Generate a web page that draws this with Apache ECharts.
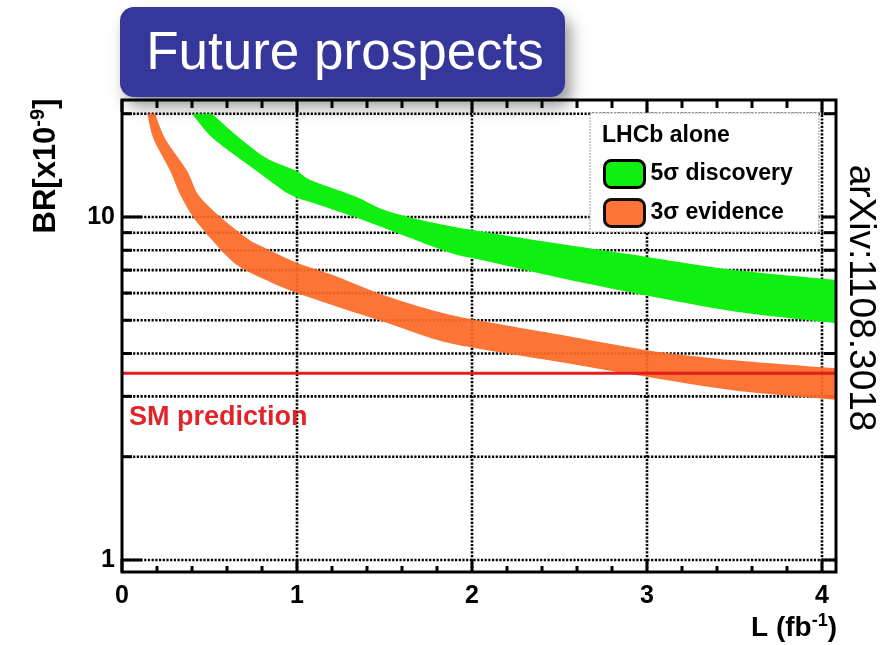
<!DOCTYPE html>
<html>
<head>
<meta charset="utf-8">
<script src="https://cdn.jsdelivr.net/npm/echarts@6/dist/echarts.min.js"></script>
<style>
html, body { margin: 0; padding: 0; background: #fff; }
#main { width: 881px; height: 645px; }
</style>
</head>
<body>
<div id="main"></div>
<script>
// axis ranges (log y)
var xMin = 0, xMax = 4.08;
var yMin = 0.9226, yMax = 21.93;

// ticks and labels
var xTicks = [0, 0.2, 0.4, 0.6, 0.8, 1, 1.2, 1.4, 1.6, 1.8, 2, 2.2, 2.4, 2.6, 2.8, 3, 3.2, 3.4, 3.6, 3.8, 4];
var xMajor = [0, 1, 2, 3, 4];
var xGrid = [1, 2, 3, 4];
var yTicks = [1, 2, 3, 4, 5, 6, 7, 8, 9, 10, 20];
var yMajor = [1, 10];
var xLabels = [0, 1, 2, 3, 4];
var yLabels = [1, 10];

// 5 sigma discovery band
var greenUpX = [0.514, 0.677, 0.829, 1.0, 1.08, 1.33, 1.52, 1.88, 2.5, 3.0, 3.5, 4.08];
var greenUpY = [20, 16.9, 14.8, 13.6, 12.8, 11.5, 10.4, 9.4, 8.35, 7.65, 7.0, 6.55];
var greenLoX = [0.40, 0.523, 0.771, 0.962, 1.114, 1.33, 1.52, 1.88, 2.05, 2.5, 3.0, 3.5, 4.08];
var greenLoY = [20, 16.9, 13.6, 11.6, 10.9, 10.0, 9.2, 7.85, 7.5, 6.65, 5.9, 5.3, 4.9];

// 3 sigma evidence band
var orangeUpX = [0.19, 0.247, 0.373, 0.436, 0.552, 0.714, 0.80, 1.0, 1.23, 1.52, 1.88, 2.5, 3.0, 3.5, 4.08];
var orangeUpY = [20, 16.9, 13.6, 11.6, 10.1, 8.67, 8.2, 7.35, 6.7, 5.86, 5.18, 4.54, 4.09, 3.82, 3.62];
var orangeLoX = [0.145, 0.18, 0.276, 0.333, 0.40, 0.505, 0.657, 0.85, 1.0, 1.23, 1.52, 1.88, 2.5, 3.0, 3.5, 4.08];
var orangeLoY = [20, 16.9, 13.6, 11.6, 10.1, 8.67, 7.24, 6.45, 6.0, 5.47, 4.9, 4.28, 3.78, 3.42, 3.12, 2.93];

// SM prediction
var smValue = 3.5;

var FONT = 'Liberation Sans, Arial, Helvetica, sans-serif';
var dotted = { stroke: '#000', lineWidth: 2.6, lineDash: [2.2, 1.5] };
var tickStyle = { stroke: '#000', lineWidth: 3 };

var myChart = echarts.init(document.getElementById('main'));

function renderXTick(params, api) {
    var v = api.value(0);
    var bot = api.coord([v, yMin]);
    var top = api.coord([v, yMax]);
    var major = xMajor.indexOf(v) >= 0;
    var kids = [];
    if (xGrid.indexOf(v) >= 0) {
        kids.push({ type: 'line', shape: { x1: bot[0], y1: bot[1], x2: top[0], y2: top[1] }, style: dotted });
    }
    kids.push({ type: 'line', shape: { x1: bot[0], y1: bot[1], x2: bot[0], y2: bot[1] - (major ? 13 : 6) }, style: tickStyle });
    kids.push({ type: 'line', shape: { x1: top[0], y1: top[1], x2: top[0], y2: top[1] + (major ? 12 : 8) }, style: tickStyle });
    return { type: 'group', children: kids };
}

function renderYTick(params, api) {
    var v = api.value(1);
    var a = api.coord([xMin, v]);
    var b = api.coord([xMax, v]);
    var major = yMajor.indexOf(v) >= 0;
    return {
        type: 'group',
        children: [
            { type: 'line', shape: { x1: a[0], y1: a[1], x2: b[0], y2: b[1] }, style: dotted },
            { type: 'line', shape: { x1: a[0], y1: a[1], x2: a[0] + (major ? 20 : 10), y2: a[1] }, style: tickStyle },
            { type: 'line', shape: { x1: b[0], y1: b[1], x2: b[0] - (major ? 14 : 12), y2: b[1] }, style: tickStyle }
        ]
    };
}

// smooth edge through the pixel points (catmull-rom as cubic beziers)
function smoothEdge(p, first) {
    var k = 1 / 7;
    var d = (first ? 'M' : 'L') + p[0][0] + ',' + p[0][1];
    for (var i = 0; i < p.length - 1; i++) {
        var p0 = p[Math.max(i - 1, 0)], p1 = p[i], p2 = p[i + 1], p3 = p[Math.min(i + 2, p.length - 1)];
        d += 'C' + (p1[0] + (p2[0] - p0[0]) * k) + ',' + (p1[1] + (p2[1] - p0[1]) * k) + ' ' +
            (p2[0] - (p3[0] - p1[0]) * k) + ',' + (p2[1] - (p3[1] - p1[1]) * k) + ' ' +
            p2[0] + ',' + p2[1];
    }
    return d;
}

function bandRenderer(upX, upY, loX, loY) {
    return function (params, api) {
        var up = [], lo = [];
        for (var i = 0; i < upX.length; i++) up.push(api.coord([upX[i], upY[i]]));
        for (var j = loX.length - 1; j >= 0; j--) lo.push(api.coord([loX[j], loY[j]]));
        var d = smoothEdge(up, true) + smoothEdge(lo, false) + 'Z';
        return { type: 'path', shape: { pathData: d }, style: api.style() };
    };
}

var option = {
    animation: false,
    grid: {
        left: 122, right: 45, top: 100, bottom: 73,
        show: true, z: 10,
        borderColor: '#000', borderWidth: 3,
        backgroundColor: 'transparent'
    },
    xAxis: {
        type: 'value', min: xMin, max: xMax, interval: 1,
        axisLine: { show: false }, axisTick: { show: false }, splitLine: { show: false },
        axisLabel: {
            margin: 12, color: '#000', fontSize: 25, fontWeight: 'bold', fontFamily: FONT,
            formatter: function (v) { return xLabels.indexOf(v) >= 0 ? String(v) : ''; }
        }
    },
    yAxis: {
        type: 'log', logBase: 10, min: yMin, max: yMax,
        axisLine: { show: false }, axisTick: { show: false }, splitLine: { show: false },
        axisLabel: {
            margin: 7, color: '#000', fontSize: 25, fontWeight: 'bold', fontFamily: FONT,
            formatter: function (v) { return yLabels.indexOf(v) >= 0 ? String(v) : ''; }
        }
    },
    legend: {
        data: ['5σ discovery', '3σ evidence'],
        orient: 'vertical',
        left: 590, top: 113,
        padding: [46, 26, 4, 13],
        itemGap: 9,
        itemWidth: 40, itemHeight: 27,
        icon: 'roundRect',
        backgroundColor: '#fff',
        borderColor: '#aaa', borderWidth: 1.5, borderType: 'dotted',
        itemStyle: { borderColor: '#000', borderWidth: 3 },
        textStyle: { color: '#000', fontSize: 23, fontWeight: 'bold', fontFamily: FONT, padding: [0, 0, 0, 1] },
        selectedMode: false
    },
    series: [
        {
            name: 'xticks', type: 'custom', z: 1, silent: true,
            data: xTicks.map(function (v) { return [v, yMin]; }),
            renderItem: renderXTick
        },
        {
            name: 'yticks', type: 'custom', z: 1, silent: true,
            data: yTicks.map(function (v) { return [xMin, v]; }),
            renderItem: renderYTick
        },
        {
            name: '5σ discovery', type: 'custom', z: 2, clip: true,
            itemStyle: { color: '#10f010' },
            data: [[greenUpX[0], greenUpY[0]]],
            renderItem: bandRenderer(greenUpX, greenUpY, greenLoX, greenLoY)
        },
        {
            name: '3σ evidence', type: 'custom', z: 2, clip: true,
            itemStyle: { color: '#fd6a27', opacity: 0.93 },
            data: [[orangeUpX[0], orangeUpY[0]]],
            renderItem: bandRenderer(orangeUpX, orangeUpY, orangeLoX, orangeLoY)
        },
        {
            name: 'SM', type: 'line', z: 3, silent: true,
            symbol: 'none',
            lineStyle: { color: '#e51d1f', width: 3 },
            data: [[xMin, smValue], [xMax, smValue]]
        }
    ],
    graphic: [
        {
            type: 'rect', z: 100,
            shape: { x: 120, y: 7, width: 445, height: 90, r: 14 },
            style: {
                fill: '#35379a',
                shadowBlur: 16, shadowOffsetX: 6, shadowOffsetY: 10, shadowColor: 'rgba(0,0,0,0.4)'
            }
        },
        {
            type: 'text', z: 101, x: 345, y: 54,
            style: {
                text: 'Future prospects', fill: '#fff', font: '53px ' + FONT,
                align: 'center', verticalAlign: 'middle'
            }
        },
        {
            type: 'text', z: 101, x: 602, y: 136,
            style: {
                text: 'LHCb alone', fill: '#000', font: 'bold 23px ' + FONT,
                align: 'left', verticalAlign: 'middle'
            }
        },
        {
            type: 'text', z: 101, x: 129, y: 418,
            style: {
                text: 'SM prediction', fill: '#e3232a', font: 'bold 27px ' + FONT,
                align: 'left', verticalAlign: 'middle'
            }
        },
        {
            type: 'text', z: 101, x: 46, y: 166, rotation: Math.PI / 2,
            style: {
                text: '{a|BR[x10}{s|-9}{a|]}',
                align: 'center', verticalAlign: 'middle',
                rich: {
                    a: { fontSize: 31, fontWeight: 'bold', fontFamily: FONT, fill: '#000', lineHeight: 35 },
                    s: { fontSize: 20, fontWeight: 'bold', fontFamily: FONT, fill: '#000', lineHeight: 20, verticalAlign: 'top' }
                }
            }
        },
        {
            type: 'text', z: 101, x: 837, y: 628,
            style: {
                text: '{a|L (fb}{s|-1}{a|)}',
                align: 'right', verticalAlign: 'middle',
                rich: {
                    a: { fontSize: 28, fontWeight: 'bold', fontFamily: FONT, fill: '#000', lineHeight: 32 },
                    s: { fontSize: 18, fontWeight: 'bold', fontFamily: FONT, fill: '#000', lineHeight: 18, verticalAlign: 'top' }
                }
            }
        },
        {
            type: 'text', z: 101, x: 860, y: 298, rotation: -Math.PI / 2,
            style: {
                text: 'arXiv:1108.3018', fill: '#000', font: '37px ' + FONT,
                align: 'center', verticalAlign: 'middle'
            }
        }
    ]
};

myChart.setOption(option);
window.onresize = function () {
    myChart.resize();
};
</script>
</body>
</html>
